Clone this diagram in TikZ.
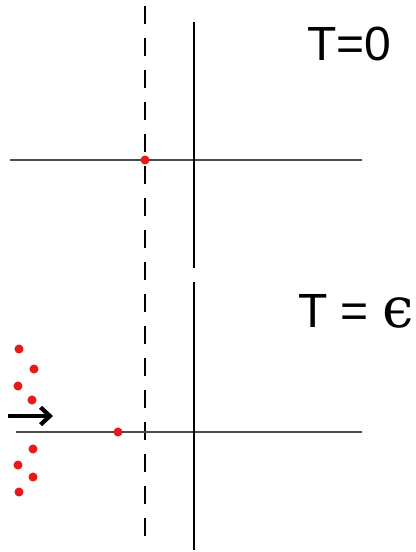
\documentclass[tikz,border=0pt]{standalone}
\usepackage{fontspec}
\setmainfont{Liberation Sans}
\newfontfamily\greekfont{DejaVu Serif}
\usepackage{tikz}
\usetikzlibrary{arrows.meta, positioning}
\tikzset{
  % Axis styles
  axis/.style={line width=1.1pt, draw=black},
  haxis/.style={line width=1.1pt, draw=black!70},
  barrier/.style={line width=1.1pt, draw=black, dash pattern=on 13.5pt off 10.5pt},
  % Particles and labels
  particle/.style={circle, fill=red!90!black!90, draw=none, minimum size=6.8pt, inner sep=0pt},
  timelabel/.style={anchor=base west, inner sep=0pt, font=\fontsize{36}{40}\selectfont},
  push/.style={-{Straight Barb[length=7pt, width=13pt]}, line width=3.2pt},
}

\begin{document}
\begin{tikzpicture}[x=0.75pt, y=-0.75pt]
    \useasboundingbox (0,0) rectangle (416,552);

    % Barrier (dashed)
    \coordinate (barN) at (145,6);
    \coordinate (barS) at (145,541);
    \draw[barrier] (barN) -- (barS);

    % Top panel
    \coordinate (h0W) at (10,160);
    \coordinate (h0E) at (362,160);
    \coordinate (v0N) at (194,22);
    \coordinate (v0S) at (194,268);
    \draw[haxis] (h0W) -- (h0E);
    \draw[axis] (v0N) -- (v0S);
    \node[particle] (p0) at (145,160) {};
    \node[timelabel] (t0) at (307,61) {T=0};

    % Bottom panel
    \coordinate (h1W) at (16,432);
    \coordinate (h1E) at (362,432);
    \coordinate (v1N) at (194,282);
    \coordinate (v1S) at (194,550);
    \draw[haxis] (h1W) -- (h1E);
    \draw[axis] (v1N) -- (v1S);
    \node[particle] (p1) at (118,432) {};
    \node[timelabel] (t1) at (298,327) {T = {\greekfont\fontsize{42}{46}\selectfont ϵ}};

    % Incoming particles
    \foreach \px/\py [count=\i] in {19/349, 34/369, 18/386, 32/400, 33/449, 18/465, 33/477, 19/492}
      \node[particle] (q\i) at (\px,\py) {};

    % Push arrow
    \coordinate (pushW) at (8,416);
    \coordinate (pushE) at (53,416);
    \draw[push] (pushW) -- (pushE);
  \end{tikzpicture}
\end{document}
